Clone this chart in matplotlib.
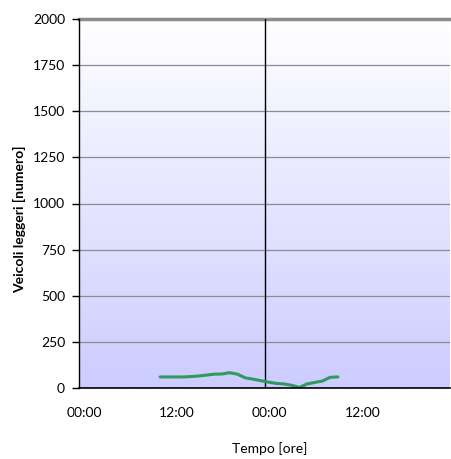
import numpy as np
import matplotlib.pyplot as plt
import matplotlib.transforms as mtransforms

# hours from the start of day one
ore = [10.5, 11.5, 12.5, 13.5, 14.5, 15.5, 16.5, 17.5, 18.5, 19.5, 20.5, 21.5,
       22.5, 23.5, 24.5, 25.5, 26.5, 27.5, 28.5, 29.5, 30.5, 31.5, 32.5, 33.5]
veicoli = [60, 60, 60, 60, 62, 65, 70, 75, 76, 83, 75, 55,
           48, 40, 32, 25, 22, 15, 3, 22, 30, 38, 58, 60]
tick_ore = [0, 12, 24, 36]
tick_label = ["00:00", "12:00", "00:00", "12:00"]
y_ticks = [0, 250, 500, 750, 1000, 1250, 1500, 1750, 2000]

plt.rcParams['font.family'] = ['Lato', 'DejaVu Sans']

fig = plt.figure(figsize=(4.51, 4.59), dpi=100)
ax = fig.add_axes([79 / 451, 71 / 459, 371 / 451, 369 / 459])

# background gradient, white on top to lavender at the bottom
grad = np.linspace(0, 1, 256).reshape(-1, 1)
top = np.array([1.0, 1.0, 1.0])
bottom = np.array([0xcc, 0xcc, 0xff]) / 255
img = top + (bottom - top) * grad[:, :, None]
ax.imshow(img, extent=[0, 48, 0, 2000], aspect='auto', origin='upper', zorder=0)

ax.set_xlim(0, 48)
ax.set_ylim(0, 2000)

for y in y_ticks[1:-1]:
    ax.axhline(y, color='#8c8c8c', lw=0.9, zorder=1)
ax.axhline(2000, color='#8c8c8c', lw=2.5, zorder=1, clip_on=False)
ax.axvline(24, color='black', lw=1.0, zorder=2)

ax.plot(ore, veicoli, color='#2e9a5e', lw=2.2, zorder=3, solid_capstyle='round')

ax.set_yticks(y_ticks)
ax.set_xticks(tick_ore)
ax.set_xticklabels(tick_label)
ax.set_xticks([0, 24], minor=True)
ax.tick_params(axis='x', which='major', length=0, pad=14, labelsize=10)
ax.tick_params(axis='x', which='minor', length=4, width=1, color='black')
ax.tick_params(axis='y', length=5, width=1, labelsize=10, pad=5)

# labels sit a few pixels right of their positions
shift = mtransforms.ScaledTranslation(5 / 100, 0, fig.dpi_scale_trans)
for lab in ax.get_xticklabels():
    lab.set_transform(lab.get_transform() + shift)

for s in ['top', 'right']:
    ax.spines[s].set_visible(False)
ax.spines['left'].set_linewidth(1.0)
ax.spines['bottom'].set_linewidth(1.2)
ax.spines['bottom'].set_zorder(4)

ax.set_ylabel("Veicoli leggeri [numero]", fontsize=10, fontweight='bold')
ax.yaxis.set_label_coords(-0.159, 0.458)
ax.set_xlabel("Tempo [ore]", fontsize=10)
ax.xaxis.set_label_coords(0.515, -0.163)
ax.xaxis.label.set_va('center')
ax.yaxis.label.set_va('center')

fig.savefig("out.png", dpi=100)
